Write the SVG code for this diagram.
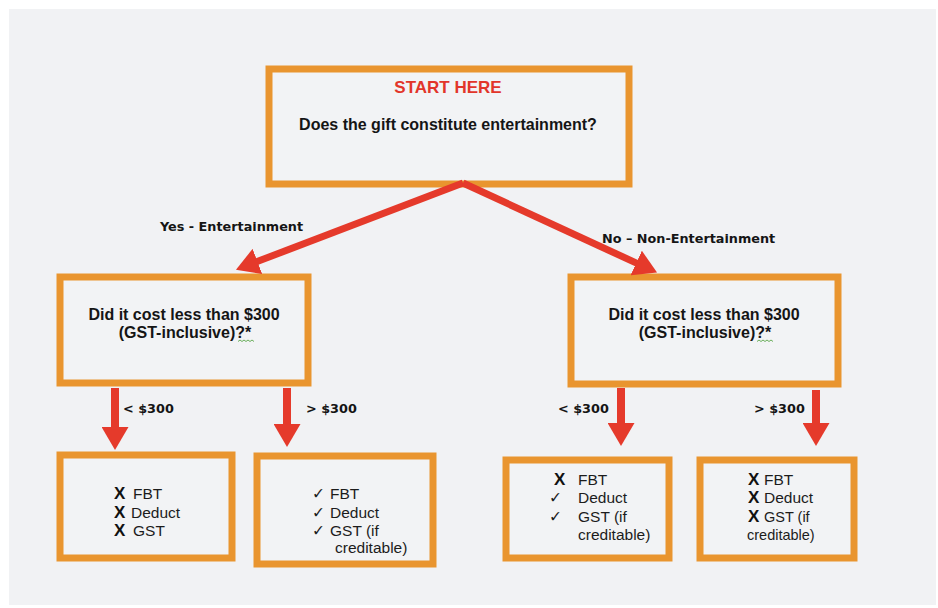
<svg xmlns="http://www.w3.org/2000/svg" width="938" height="608" viewBox="0 0 938 608">
<style>
.box{fill:#F2F3F5;stroke:#E9952F;stroke-width:7}
.q{font-family:"Liberation Sans",Arial,sans-serif;font-weight:bold;font-size:16px;fill:#151515;text-anchor:middle}
.start{font-family:"Liberation Sans",Arial,sans-serif;font-weight:bold;font-size:17px;fill:#E2352A;text-anchor:middle}
.lbl{font-family:"DejaVu Sans",Verdana,sans-serif;font-weight:bold;font-size:12.8px;fill:#151515}
.t{font-family:"Liberation Sans",Arial,sans-serif;font-size:15.5px;fill:#1c1c1c}
.s{font-size:14.5px}
.x{font-family:"Liberation Sans",Arial,sans-serif;font-weight:bold;font-size:17px;fill:#111}
.ck{font-family:"DejaVu Sans",sans-serif;font-size:15.5px;fill:#1c1c1c}
.arrow{stroke:#E53A2B;fill:none;marker-end:url(#ah)}
.diag{stroke-width:7}
.vert{stroke-width:8}
.sq{fill:none;stroke:#5aa64a;stroke-width:0.9}
</style>
<defs>
<marker id="ah" markerUnits="userSpaceOnUse" markerWidth="23" markerHeight="27" refX="1" refY="13.5" orient="auto" viewBox="0 0 23 27">
<path d="M0,0 L23,13.5 L0,27 z" fill="#E53A2B"/>
</marker>
</defs>
<rect x="0" y="0" width="938" height="608" fill="#ffffff"/>
<rect x="9" y="9" width="927" height="596" fill="#F1F2F4"/>

<g id="start">
<rect class="box" x="269" y="69" width="360" height="115"/>
<text class="start" x="448" y="92.5">START HERE</text>
<text class="q" x="448" y="130">Does the gift constitute entertainment?</text>
</g>

<g id="cost-ent">
<rect class="box" x="60" y="277" width="248" height="106"/>
<text class="q" x="184" y="320">Did it cost less than $300</text>
<text class="q" x="185" y="338">(GST-inclusive)?*</text>
<path class="sq" d="M238,341.5 l2,-1.5 l2,1.5 l2,-1.5 l2,1.5 l2,-1.5 l2,1.5 l2,-1.5 l2,1.5"/>
</g>

<g id="cost-nonent">
<rect class="box" x="571" y="277" width="267" height="107"/>
<text class="q" x="704" y="320">Did it cost less than $300</text>
<text class="q" x="705" y="338">(GST-inclusive)?*</text>
<path class="sq" d="M757,341.5 l2,-1.5 l2,1.5 l2,-1.5 l2,1.5 l2,-1.5 l2,1.5 l2,-1.5 l2,1.5"/>
</g>

<g id="ent-under">
<rect class="box" x="60" y="455" width="172" height="103"/>
<text class="x" x="114" y="499">X</text><text class="t" x="133" y="499">FBT</text>
<text class="x" x="114" y="517.5">X</text><text class="t" x="131" y="517.5">Deduct</text>
<text class="x" x="114" y="535.5">X</text><text class="t" x="133" y="535.5">GST</text>
</g>

<g id="ent-over">
<rect class="box" x="257" y="456" width="176" height="108"/>
<text class="ck" x="312" y="499">✓</text><text class="t" x="330" y="499">FBT</text>
<text class="ck" x="312" y="517.5">✓</text><text class="t" x="330" y="517.5">Deduct</text>
<text class="ck" x="312" y="535.5">✓</text><text class="t" x="330" y="535.5">GST (if</text>
<text class="t" x="335" y="552.5">creditable)</text>
</g>

<g id="nonent-under">
<rect class="box" x="506" y="460" width="163" height="98"/>
<text class="x" x="554" y="485">X</text><text class="t" x="578" y="485">FBT</text>
<text class="ck" x="549" y="503">✓</text><text class="t" x="578" y="503">Deduct</text>
<text class="ck" x="549" y="521.5">✓</text><text class="t" x="578" y="521.5">GST (if</text>
<text class="t" x="578" y="539.5">creditable)</text>
</g>

<g id="nonent-over">
<rect class="box" x="700" y="460" width="154" height="98"/>
<text class="x" x="748" y="485">X</text><text class="t" x="764" y="485">FBT</text>
<text class="x" x="748" y="503">X</text><text class="t" x="764" y="503">Deduct</text>
<text class="x" x="748" y="521.5">X</text><text class="t s" x="764" y="521.5">GST (if</text>
<text class="t s" x="747" y="539.5">creditable)</text>
</g>

<g id="connectors">
<path class="arrow diag" d="M463,183 L256.5,261.8"/>
<path class="arrow diag" d="M463,183 L637.1,263.4"/>
<path class="arrow vert" d="M115,388 L115,428"/>
<path class="arrow vert" d="M287,388 L287,425"/>
<path class="arrow vert" d="M621,388 L621,424"/>
<path class="arrow vert" d="M816,390 L816,424"/>
<text class="lbl" x="160" y="231">Yes - Entertainment</text>
<text class="lbl" x="602" y="243">No – Non-Entertainment</text>
<text class="lbl" x="123" y="413">&lt; $300</text>
<text class="lbl" x="306" y="413">&gt; $300</text>
<text class="lbl" x="558" y="413">&lt; $300</text>
<text class="lbl" x="754" y="413">&gt; $300</text>
</g>
</svg>
